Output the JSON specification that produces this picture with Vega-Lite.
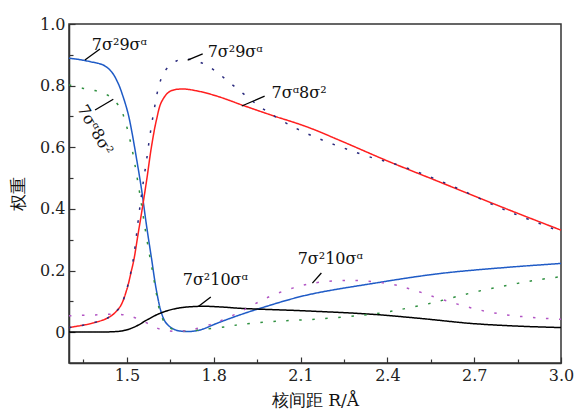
{
  "$schema": "https://vega.github.io/schema/vega-lite/v6.json",
  "width": 492,
  "height": 339,
  "autosize": {"type": "none"},
  "padding": {"left": 69, "top": 24, "right": 14, "bottom": 53},
  "background": "white",
  "config": {
    "view": {"stroke": "#333", "strokeWidth": 1.5},
    "font": "DejaVu Serif",
    "axis": {
      "grid": false,
      "domainColor": "#333",
      "domainWidth": 1.5,
      "tickColor": "#333",
      "tickWidth": 1.2,
      "labelFont": "DejaVu Serif",
      "labelFontSize": 16,
      "labelColor": "#222",
      "titleFont": "DejaVu Serif",
      "titleFontSize": 17,
      "titleFontWeight": "normal",
      "titleColor": "#111"
    }
  },
  "datasets": {
    "curves": [
      {"s": "blue", "x": 1.300, "y": 0.889}, {"s": "blue", "x": 1.340, "y": 0.884}, {"s": "blue", "x": 1.372, "y": 0.878}, {"s": "blue", "x": 1.418, "y": 0.867}, {"s": "blue", "x": 1.447, "y": 0.845}, {"s": "blue", "x": 1.470, "y": 0.807}, {"s": "blue", "x": 1.487, "y": 0.764}, {"s": "blue", "x": 1.504, "y": 0.710}, {"s": "blue", "x": 1.516, "y": 0.656}, {"s": "blue", "x": 1.533, "y": 0.565}, {"s": "blue", "x": 1.551, "y": 0.461}, {"s": "blue", "x": 1.568, "y": 0.345}, {"s": "blue", "x": 1.585, "y": 0.240}, {"s": "blue", "x": 1.602, "y": 0.136}, {"s": "blue", "x": 1.620, "y": 0.061}, {"s": "blue", "x": 1.637, "y": 0.028}, {"s": "blue", "x": 1.666, "y": 0.008}, {"s": "blue", "x": 1.706, "y": 0.002}, {"s": "blue", "x": 1.752, "y": 0.007}, {"s": "blue", "x": 1.809, "y": 0.028}, {"s": "blue", "x": 1.878, "y": 0.052}, {"s": "blue", "x": 1.959, "y": 0.077}, {"s": "blue", "x": 2.120, "y": 0.120}, {"s": "blue", "x": 2.349, "y": 0.158}, {"s": "blue", "x": 2.579, "y": 0.190}, {"s": "blue", "x": 2.809, "y": 0.210}, {"s": "blue", "x": 3.000, "y": 0.223},
      {"s": "red", "x": 1.300, "y": 0.015}, {"s": "red", "x": 1.384, "y": 0.030}, {"s": "red", "x": 1.441, "y": 0.050}, {"s": "red", "x": 1.476, "y": 0.082}, {"s": "red", "x": 1.499, "y": 0.136}, {"s": "red", "x": 1.516, "y": 0.201}, {"s": "red", "x": 1.524, "y": 0.234}, {"s": "red", "x": 1.539, "y": 0.320}, {"s": "red", "x": 1.556, "y": 0.418}, {"s": "red", "x": 1.570, "y": 0.504}, {"s": "red", "x": 1.585, "y": 0.602}, {"s": "red", "x": 1.602, "y": 0.688}, {"s": "red", "x": 1.620, "y": 0.748}, {"s": "red", "x": 1.648, "y": 0.781}, {"s": "red", "x": 1.690, "y": 0.789}, {"s": "red", "x": 1.752, "y": 0.781}, {"s": "red", "x": 1.821, "y": 0.763}, {"s": "red", "x": 1.901, "y": 0.736}, {"s": "red", "x": 2.000, "y": 0.704}, {"s": "red", "x": 2.120, "y": 0.667}, {"s": "red", "x": 2.234, "y": 0.623}, {"s": "red", "x": 2.407, "y": 0.553}, {"s": "red", "x": 2.579, "y": 0.488}, {"s": "red", "x": 2.809, "y": 0.401}, {"s": "red", "x": 3.000, "y": 0.331},
      {"s": "black", "x": 1.300, "y": 0.001}, {"s": "black", "x": 1.441, "y": 0.001}, {"s": "black", "x": 1.493, "y": 0.006}, {"s": "black", "x": 1.533, "y": 0.020}, {"s": "black", "x": 1.568, "y": 0.039}, {"s": "black", "x": 1.614, "y": 0.061}, {"s": "black", "x": 1.671, "y": 0.077}, {"s": "black", "x": 1.752, "y": 0.084}, {"s": "black", "x": 1.821, "y": 0.082}, {"s": "black", "x": 1.901, "y": 0.077}, {"s": "black", "x": 2.120, "y": 0.069}, {"s": "black", "x": 2.349, "y": 0.058}, {"s": "black", "x": 2.521, "y": 0.044}, {"s": "black", "x": 2.694, "y": 0.028}, {"s": "black", "x": 2.867, "y": 0.019}, {"s": "black", "x": 3.000, "y": 0.015},
      {"s": "navy", "x": 1.300, "y": 0.015}, {"s": "navy", "x": 1.384, "y": 0.030}, {"s": "navy", "x": 1.441, "y": 0.050}, {"s": "navy", "x": 1.476, "y": 0.082}, {"s": "navy", "x": 1.499, "y": 0.138}, {"s": "navy", "x": 1.516, "y": 0.205}, {"s": "navy", "x": 1.525, "y": 0.255}, {"s": "navy", "x": 1.542, "y": 0.385}, {"s": "navy", "x": 1.556, "y": 0.483}, {"s": "navy", "x": 1.568, "y": 0.558}, {"s": "navy", "x": 1.579, "y": 0.634}, {"s": "navy", "x": 1.594, "y": 0.721}, {"s": "navy", "x": 1.611, "y": 0.800}, {"s": "navy", "x": 1.631, "y": 0.847}, {"s": "navy", "x": 1.671, "y": 0.880}, {"s": "navy", "x": 1.711, "y": 0.886}, {"s": "navy", "x": 1.763, "y": 0.872}, {"s": "navy", "x": 1.809, "y": 0.845}, {"s": "navy", "x": 1.855, "y": 0.810}, {"s": "navy", "x": 1.901, "y": 0.775}, {"s": "navy", "x": 1.941, "y": 0.745}, {"s": "navy", "x": 1.991, "y": 0.712}, {"s": "navy", "x": 2.079, "y": 0.664}, {"s": "navy", "x": 2.171, "y": 0.625}, {"s": "navy", "x": 2.263, "y": 0.593}, {"s": "navy", "x": 2.355, "y": 0.564}, {"s": "navy", "x": 2.412, "y": 0.550}, {"s": "navy", "x": 2.504, "y": 0.520}, {"s": "navy", "x": 2.597, "y": 0.485}, {"s": "navy", "x": 2.689, "y": 0.447}, {"s": "navy", "x": 2.780, "y": 0.407}, {"s": "navy", "x": 2.872, "y": 0.372}, {"s": "navy", "x": 3.000, "y": 0.326},
      {"s": "green", "x": 1.300, "y": 0.802}, {"s": "green", "x": 1.349, "y": 0.791}, {"s": "green", "x": 1.390, "y": 0.784}, {"s": "green", "x": 1.436, "y": 0.768}, {"s": "green", "x": 1.476, "y": 0.729}, {"s": "green", "x": 1.493, "y": 0.688}, {"s": "green", "x": 1.516, "y": 0.602}, {"s": "green", "x": 1.533, "y": 0.515}, {"s": "green", "x": 1.548, "y": 0.429}, {"s": "green", "x": 1.562, "y": 0.342}, {"s": "green", "x": 1.577, "y": 0.257}, {"s": "green", "x": 1.590, "y": 0.190}, {"s": "green", "x": 1.602, "y": 0.125}, {"s": "green", "x": 1.620, "y": 0.050}, {"s": "green", "x": 1.648, "y": 0.014}, {"s": "green", "x": 1.706, "y": 0.003}, {"s": "green", "x": 1.763, "y": 0.009}, {"s": "green", "x": 1.844, "y": 0.018}, {"s": "green", "x": 1.901, "y": 0.026}, {"s": "green", "x": 2.028, "y": 0.036}, {"s": "green", "x": 2.166, "y": 0.043}, {"s": "green", "x": 2.303, "y": 0.054}, {"s": "green", "x": 2.396, "y": 0.065}, {"s": "green", "x": 2.464, "y": 0.077}, {"s": "green", "x": 2.551, "y": 0.094}, {"s": "green", "x": 2.637, "y": 0.115}, {"s": "green", "x": 2.729, "y": 0.136}, {"s": "green", "x": 2.821, "y": 0.153}, {"s": "green", "x": 2.913, "y": 0.169}, {"s": "green", "x": 3.000, "y": 0.180},
      {"s": "magenta", "x": 1.300, "y": 0.053}, {"s": "magenta", "x": 1.390, "y": 0.056}, {"s": "magenta", "x": 1.476, "y": 0.058}, {"s": "magenta", "x": 1.528, "y": 0.047}, {"s": "magenta", "x": 1.573, "y": 0.028}, {"s": "magenta", "x": 1.614, "y": 0.010}, {"s": "magenta", "x": 1.666, "y": 0.003}, {"s": "magenta", "x": 1.720, "y": 0.007}, {"s": "magenta", "x": 1.798, "y": 0.028}, {"s": "magenta", "x": 1.844, "y": 0.045}, {"s": "magenta", "x": 1.895, "y": 0.068}, {"s": "magenta", "x": 1.941, "y": 0.091}, {"s": "magenta", "x": 1.982, "y": 0.111}, {"s": "magenta", "x": 2.028, "y": 0.129}, {"s": "magenta", "x": 2.073, "y": 0.143}, {"s": "magenta", "x": 2.120, "y": 0.155}, {"s": "magenta", "x": 2.166, "y": 0.162}, {"s": "magenta", "x": 2.258, "y": 0.168}, {"s": "magenta", "x": 2.349, "y": 0.164}, {"s": "magenta", "x": 2.418, "y": 0.155}, {"s": "magenta", "x": 2.464, "y": 0.144}, {"s": "magenta", "x": 2.510, "y": 0.131}, {"s": "magenta", "x": 2.551, "y": 0.118}, {"s": "magenta", "x": 2.642, "y": 0.091}, {"s": "magenta", "x": 2.734, "y": 0.069}, {"s": "magenta", "x": 2.821, "y": 0.055}, {"s": "magenta", "x": 2.913, "y": 0.047}, {"s": "magenta", "x": 3.000, "y": 0.042}
    ],
    "notes": [
      {"x": 1.379, "y": 0.932, "t": "7σ²9σᵅ"},
      {"x": 1.779, "y": 0.909, "t": "7σ²9σᵅ"},
      {"x": 2.000, "y": 0.776, "t": "7σᵅ8σ²"},
      {"x": 1.693, "y": 0.169, "t": "7σ²10σᵅ"},
      {"x": 2.090, "y": 0.237, "t": "7σ²10σᵅ"}
    ],
    "rotnotes": [
      {"x": 1.390, "y": 0.656, "t": "7σᵅ8σ²"}
    ],
    "leaders": [
      {"x": 1.355, "y": 0.883, "x2": 1.407, "y2": 0.919},
      {"x": 1.710, "y": 0.883, "x2": 1.762, "y2": 0.903},
      {"x": 1.897, "y": 0.734, "x2": 1.976, "y2": 0.766},
      {"x": 1.390, "y": 0.721, "x2": 1.453, "y2": 0.756},
      {"x": 1.748, "y": 0.084, "x2": 1.790, "y2": 0.114},
      {"x": 2.141, "y": 0.159, "x2": 2.172, "y2": 0.192}
    ]
  },
  "encoding": {
    "x": {
      "field": "x", "type": "quantitative",
      "scale": {"domain": [1.3, 3.0], "nice": false, "zero": false},
      "axis": {
        "title": "核间距 R/Å",
        "values": [1.35, 1.5, 1.65, 1.8, 1.95, 2.1, 2.25, 2.4, 2.55, 2.7, 2.85, 3.0],
        "labelExpr": "round(datum.value*100) % 30 == 0 ? format(datum.value, '.1f') : ''",
        "tickSize": {"condition": {"test": "round(datum.value*100) % 30 == 0", "value": -6}, "value": -4},
        "labelPadding": 10,
        "titlePadding": 9,
        "labelFlush": false
      }
    },
    "y": {
      "field": "y", "type": "quantitative",
      "scale": {"domain": [-0.1, 1.0], "nice": false, "zero": false},
      "axis": {
        "title": "权重",
        "values": [0, 0.1, 0.2, 0.3, 0.4, 0.5, 0.6, 0.7, 0.8, 0.9, 1.0],
        "labelExpr": "datum.value == 0 ? '0' : (round(datum.value*10) % 2 == 0 ? format(datum.value, '.1f') : '')",
        "tickSize": {"condition": {"test": "round(datum.value*10) % 2 == 0", "value": -6}, "value": -4},
        "labelPadding": 10,
        "titlePadding": 12,
        "labelFlush": false
      }
    }
  },
  "layer": [
    {
      "data": {"name": "curves"},
      "mark": {"type": "line", "interpolate": "catmull-rom", "strokeWidth": 1.5, "strokeCap": "butt"},
      "encoding": {
        "color": {
          "field": "s", "type": "nominal", "legend": null,
          "scale": {"domain": ["navy", "green", "magenta", "blue", "red", "black"], "range": ["#2b2b7e", "#2f9040", "#b255c4", "#1f5bc6", "#ff1f1f", "#000000"]}
        },
        "strokeDash": {
          "field": "s", "type": "nominal", "legend": null,
          "scale": {"domain": ["navy", "green", "magenta", "blue", "red", "black"], "range": [[2.5, 10.5], [2.5, 10.5], [2.5, 10.5], [1, 0], [1, 0], [1, 0]]}
        },
        "order": {"field": "x", "type": "quantitative"}
      }
    },
    {
      "data": {"name": "leaders"},
      "mark": {"type": "rule", "color": "#000", "strokeWidth": 1.3},
      "encoding": {
        "x2": {"field": "x2"},
        "y2": {"field": "y2"}
      }
    },
    {
      "data": {"name": "notes"},
      "mark": {"type": "text", "align": "left", "baseline": "middle", "font": "DejaVu Serif", "fontSize": 16, "color": "#111"},
      "encoding": {"text": {"field": "t"}}
    },
    {
      "data": {"name": "rotnotes"},
      "mark": {"type": "text", "align": "center", "baseline": "middle", "angle": 60, "font": "DejaVu Serif", "fontSize": 16, "color": "#111"},
      "encoding": {"text": {"field": "t"}}
    }
  ]
}
